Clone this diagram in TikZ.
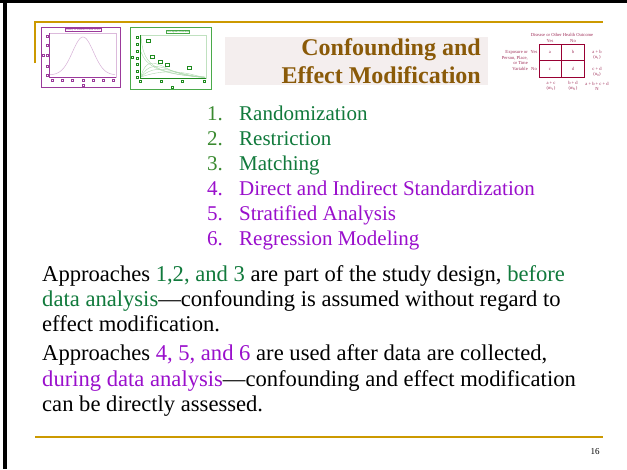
\documentclass[tikz,border=0pt]{standalone}
\usepackage{fontspec}
\setmainfont{Liberation Serif}
\definecolor{gold}{HTML}{CC9900}
\definecolor{titlebrown}{HTML}{8A5A08}
\definecolor{titlebg}{HTML}{F4EEEE}
\definecolor{grn}{HTML}{117A3C}
\definecolor{grnnum}{HTML}{3A8A30}
\definecolor{pur}{HTML}{9A0FCC}
\definecolor{tabc}{HTML}{990033}
\definecolor{tabt}{HTML}{A0305A}
\definecolor{thumbp}{HTML}{9B3A9B}
\definecolor{thumbg}{HTML}{4AAA4A}
\definecolor{thumbgd}{HTML}{1E8A1E}
\tikzset{
  listnum/.style={anchor=base east, inner sep=0pt, font=\fontsize{21}{25}\selectfont},
  listitem/.style={anchor=base west, inner sep=0pt, font=\fontsize{21}{25}\selectfont},
  bodyline/.style={anchor=base west, inner sep=0pt, font=\fontsize{22.6}{25}\selectfont},
  titleline/.style={anchor=base east, inner sep=0pt, text=titlebrown, font=\fontsize{24}{28}\selectfont\bfseries},
  tabtxt/.style={inner sep=0pt, text=tabt, font=\fontsize{4.6}{5}\selectfont, align=center},
  tabtxtr/.style={inner sep=0pt, text=tabt, font=\fontsize{4.6}{5.5}\selectfont, align=right, anchor=east},
  tinybox/.style={draw, fill=white, inner sep=0.4pt, minimum width=2.6pt, minimum height=2.6pt, line width=0.4pt},
  tinylabel/.style={draw, fill=white, inner sep=0.5pt, line width=0.4pt, font=\fontsize{2.6}{3}\selectfont}
}
\begin{document}
\begin{tikzpicture}[x=1pt,y=-1pt]
\useasboundingbox (0,0) rectangle (627,469);
\fill[white] (0,0) rectangle (627,469);
% slide frame
\fill[black] (0,0) rectangle (627,3);
\fill[black] (3,0) rectangle (7,469);
% gold rules
\draw[gold, line width=2pt] (35,63) -- (35,22) -- (603,22);
\draw[gold, line width=2pt] (35,437) -- (603,437);
\node[inner sep=0pt, font=\fontsize{9}{10}\selectfont] (pg) at (595,452) {16};

% ---------- thumbnail 1 (t distribution)
\draw[thumbp, line width=0.8pt] (41,27) rectangle (120,87);
\draw[thumbp!35, line width=0.4pt] (49,33) rectangle (116,77);
\draw[thumbp!40, line width=0.5pt] plot[domain=50:115, samples=70, smooth] (\x, {75-38*exp(-((\x-83)/10.5)^2/2)});
\draw[thumbp, line width=1pt] (49,33) -- (49,77) -- (116,77);
\node[tinylabel, draw=thumbp, text=thumbp] (ta) at (83,30) {Density of Student's t with 10 d.f.};
\foreach \yy/\nm in {36/a,45/b,55/c,66/d,75/e}{\node[tinybox, draw=thumbp] (tl\nm) at (47,\yy) {};}
\node[tinybox, draw=thumbp] (tly) at (43,55) {};
\foreach \xx/\nm in {52/a,62/b,72/c,83/d,93/e,103/f,113/g}{\node[tinybox, draw=thumbp] (tb\nm) at (\xx,80) {};}
\node[tinybox, draw=thumbp] (tbx) at (83,85) {};

% ---------- thumbnail 2 (chi-square)
\draw[thumbg, line width=0.8pt] (130,27) rectangle (211,89);
\draw[thumbg!35, line width=0.4pt] (140,35) rectangle (206,78);
\begin{scope}[thumbg!45, line width=0.4pt]
\draw (141,36) .. controls (143,62) and (150,74) .. (205,77);
\draw (141,52) .. controls (146,66) and (160,75) .. (205,77);
\draw (141,76) .. controls (146,60) and (152,60) .. (170,70) .. controls (185,76) and (195,77) .. (205,77.5);
\draw (141,77) .. controls (148,64) and (156,64) .. (175,72) .. controls (190,76) and (198,77) .. (205,77.5);
\draw (141,77) .. controls (150,68) and (162,67) .. (180,73) .. controls (193,76) and (200,77) .. (205,77.5);
\draw (141,77) .. controls (155,72) and (170,70) .. (190,74) .. controls (198,76) and (202,77) .. (205,77.5);
\end{scope}
\draw[thumbgd, line width=1pt] (140,35) -- (140,78) -- (206,78);
\node[tinylabel, draw=thumbg, text=thumbgd] (ca) at (178,32) {Chi-Square Densities};
\node[tinylabel, draw=thumbgd] (c1) at (148,41) {\phantom{00}};
\node[tinylabel, draw=thumbgd] (c2) at (152,57) {\phantom{00}};
\node[tinylabel, draw=thumbgd] (c3) at (160,62) {\phantom{00}};
\node[tinylabel, draw=thumbgd] (c4) at (167,65) {\phantom{00}};
\node[tinylabel, draw=thumbgd] (c5) at (189,68) {\phantom{00}};
\foreach \yy/\nm in {37/a,44/b,51/c,58/d,64/e,71/f,77/g}{\node[tinybox, draw=thumbgd] (gl\nm) at (137,\yy) {};}
\node[tinybox, draw=thumbgd] (gly) at (132,57) {};
\foreach \xx/\nm in {140/a,161/b,182/c,204/d}{\node[tinybox, draw=thumbgd] (gb\nm) at (\xx,81) {};}
\node[tinybox, draw=thumbgd] (gbx) at (172,87) {};

% ---------- title
\fill[titlebg] (225,37) rectangle (488,85);
\node[titleline] (title1) at (481,55) {Confounding and};
\node[titleline] (title2) at (481,83) {Effect Modification};

% ---------- 2x2 table
\node[tabtxt] (dis) at (562,35) {Disease or Other Health Outcome};
\node[tabtxt] (cyes) at (550,41) {Yes};
\node[tabtxt] (cno) at (573,41) {No};
\draw[tabc, line width=0.8pt] (539,44) rectangle (584,77);
\draw[tabc, line width=0.8pt] (561.5,44) -- (561.5,77);
\draw[tabc, line width=0.8pt] (539,60.5) -- (584,60.5);
\node[tabtxt] (ca1) at (550,52) {a};
\node[tabtxt] (cb1) at (573,52) {b};
\node[tabtxt] (cc1) at (550,69) {c};
\node[tabtxt] (cd1) at (573,69) {d};
\node[tabtxtr] (expo) at (528,60.5) {Exposure or\\Person, Place,\\or Time\\Variable};
\node[tabtxt] (ryes) at (534,52) {Yes};
\node[tabtxt] (rno) at (534,69) {No};
\node[tabtxt] (rab) at (597,55) {a + b\\(n\textsubscript{1})};
\node[tabtxt] (rcd) at (597,72) {c + d\\(n\textsubscript{0})};
\node[tabtxt] (bac) at (551,86) {a + c\\(m\textsubscript{1})};
\node[tabtxt] (bbd) at (573,86) {b + d\\(m\textsubscript{0})};
\node[tabtxt] (ball) at (597,86) {a + b + c + d\\N};

% ---------- numbered list
\node[listnum, text=grnnum] (n1) at (223,120) {1.};
\node[listitem, text=grn] (i1) at (239,120) {Randomization};
\node[listnum, text=grnnum] (n2) at (223,145) {2.};
\node[listitem, text=grn] (i2) at (239,145) {Restriction};
\node[listnum, text=grnnum] (n3) at (223,170) {3.};
\node[listitem, text=grn] (i3) at (239,170) {Matching};
\node[listnum, text=pur] (n4) at (223,195) {4.};
\node[listitem, text=pur] (i4) at (239,195) {Direct and Indirect Standardization};
\node[listnum, text=pur] (n5) at (223,220) {5.};
\node[listitem, text=pur] (i5) at (239,220) {Stratified Analysis};
\node[listnum, text=pur] (n6) at (223,245) {6.};
\node[listitem, text=pur] (i6) at (239,245) {Regression Modeling};

% ---------- paragraphs
\node[bodyline] (p1) at (42,281) {Approaches \textcolor{grn}{1,2, and 3} are part of the study design, \textcolor{grn}{before}};
\node[bodyline] (p2) at (42,306) {\textcolor{grn}{data analysis}---confounding is assumed without regard to};
\node[bodyline] (p3) at (42,331) {effect modification.};
\node[bodyline] (q1) at (42,360) {Approaches \textcolor{pur}{4, 5, and 6} are used after data are collected,};
\node[bodyline] (q2) at (42,386) {\textcolor{pur}{during data analysis}---confounding and effect modification};
\node[bodyline] (q3) at (42,411) {can be directly assessed.};
\end{tikzpicture}
\end{document}
